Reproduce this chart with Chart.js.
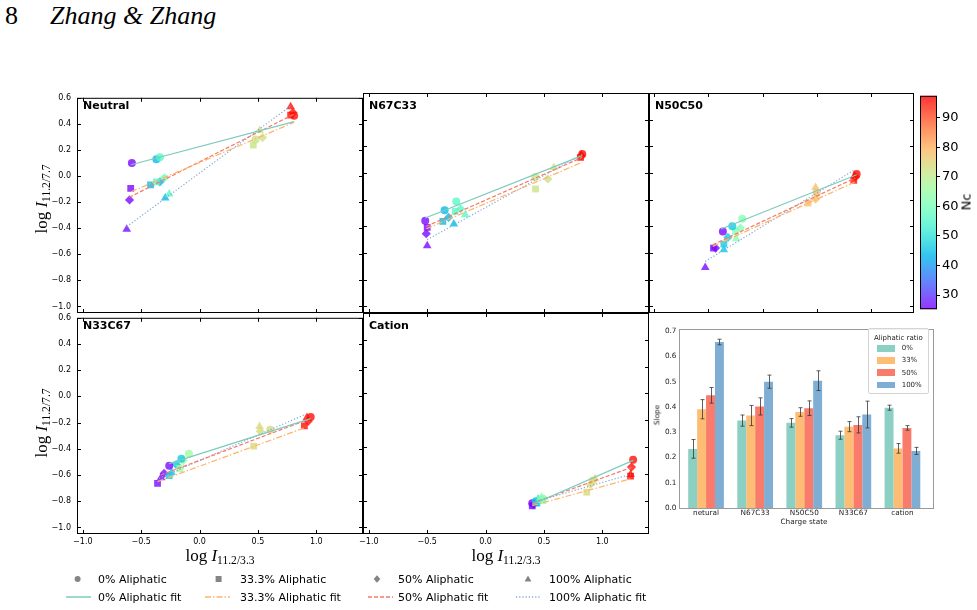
<!DOCTYPE html>
<html><head><meta charset="utf-8">
<script src="https://cdn.jsdelivr.net/npm/chart.js@4.4.1/dist/chart.umd.min.js"></script>
<style>
html,body{margin:0;padding:0;background:#fff;}
body{width:977px;height:610px;position:relative;overflow:hidden;font-family:"DejaVu Sans",sans-serif;color:#000;}
canvas{position:absolute;}
.t{position:absolute;white-space:nowrap;line-height:1;}
.serif{font-family:"Liberation Serif","DejaVu Serif",serif;}
sub{font-size:68%;vertical-align:-0.28em;line-height:0;}
</style></head><body>
<script>
// ---------------- DATA ----------------
const xTicks = [-1.0, -0.5, 0.0, 0.5, 1.0];
const yTicks = [-1.0, -0.8, -0.6, -0.4, -0.2, 0.0, 0.2, 0.4, 0.6];
const cbTicks = [30, 40, 50, 60, 70, 80, 90];
const panelNames = ['Neutral', 'N67C33', 'N50C50', 'N33C67', 'Cation'];
const seriesNames = ['0% Aliphatic', '33.3% Aliphatic', '50% Aliphatic', '100% Aliphatic'];
const fitNames = ['0% Aliphatic fit', '33.3% Aliphatic fit', '50% Aliphatic fit', '100% Aliphatic fit'];

// points: [log I11.2/3.3, log I11.2/7.7, Nc]
const neutral0   = [[-0.58,0.100,26],[-0.37,0.128,44],[-0.34,0.145,56],[0.48,0.280,72],[0.81,0.462,96]];
const neutral33  = [[-0.59,-0.095,26],[-0.42,-0.068,44],[-0.37,-0.045,56],[0.46,0.237,72],[0.78,0.467,96]];
const neutral50  = [[-0.60,-0.183,26],[-0.34,-0.045,44],[-0.30,-0.013,58],[0.54,0.295,72],[0.80,0.487,96]];
const neutral100 = [[-0.624,-0.408,26],[-0.294,-0.168,44],[-0.26,-0.138,56],[0.515,0.350,72],[0.78,0.532,96]];
const neutralFit0   = [[-0.587,0.087],[0.81,0.417]];
const neutralFit33  = [[-0.587,-0.120],[0.81,0.412]];
const neutralFit50  = [[-0.602,-0.163],[0.81,0.475]];
const neutralFit100 = [[-0.624,-0.388],[0.78,0.537]];

const n67c33_0   = [[-0.517,-0.358,26],[-0.351,-0.280,44],[-0.251,-0.213,56],[0.426,-0.030,72],[0.828,0.142,96]];
const n67c33_33  = [[-0.50,-0.408,26],[-0.366,-0.363,44],[-0.26,-0.288,56],[0.428,-0.120,72],[0.814,0.117,96]];
const n67c33_50  = [[-0.508,-0.455,26],[-0.317,-0.333,44],[-0.214,-0.268,56],[0.534,-0.045,72],[0.82,0.130,96]];
const n67c33_100 = [[-0.50,-0.545,26],[-0.272,-0.383,44],[-0.174,-0.313,56],[0.585,0.042,72],[0.82,0.135,96]];
const n67c33Fit0   = [[-0.517,-0.338],[0.828,0.130]];
const n67c33Fit33  = [[-0.508,-0.418],[0.828,0.080]];
const n67c33Fit50  = [[-0.508,-0.400],[0.828,0.117]];
const n67c33Fit100 = [[-0.50,-0.500],[0.828,0.140]];

const n50c50_0   = [[-0.367,-0.438,26],[-0.28,-0.400,46],[-0.188,-0.343,62],[0.50,-0.150,78],[0.87,-0.008,96]];
const n50c50_33  = [[-0.454,-0.563,26],[-0.358,-0.533,46],[-0.25,-0.438,62],[0.42,-0.225,78],[0.843,-0.055,96]];
const n50c50_50  = [[-0.435,-0.563,26],[-0.32,-0.483,46],[-0.204,-0.413,62],[0.49,-0.195,78],[0.86,-0.030,96]];
const n50c50_100 = [[-0.53,-0.708,26],[-0.358,-0.575,46],[-0.244,-0.493,62],[0.49,-0.108,78],[0.85,-0.020,96]];
const n50c50Fit0   = [[-0.383,-0.420],[0.87,-0.013]];
const n50c50Fit33  = [[-0.46,-0.550],[0.852,-0.068]];
const n50c50Fit50  = [[-0.46,-0.538],[0.855,-0.038]];
const n50c50Fit100 = [[-0.53,-0.663],[0.852,0.025]];

const n33c67_0   = [[-0.26,-0.530,26],[-0.156,-0.475,46],[-0.091,-0.438,66],[0.605,-0.255,74],[0.952,-0.158,96]];
const n33c67_33  = [[-0.36,-0.663,26],[-0.26,-0.605,46],[-0.17,-0.550,66],[0.463,-0.380,74],[0.898,-0.225,96]];
const n33c67_50  = [[-0.304,-0.588,26],[-0.20,-0.520,46],[-0.14,-0.490,66],[0.52,-0.265,74],[0.93,-0.190,96]];
const n33c67_100 = [[-0.33,-0.620,26],[-0.24,-0.580,46],[-0.18,-0.530,66],[0.514,-0.230,74],[0.92,-0.160,96]];
const n33c67Fit0   = [[-0.262,-0.513],[0.952,-0.170]];
const n33c67Fit33  = [[-0.36,-0.650],[0.904,-0.238]];
const n33c67Fit50  = [[-0.333,-0.600],[0.932,-0.175]];
const n33c67Fit100 = [[-0.347,-0.625],[0.904,-0.138]];

const cation0   = [[0.40,-0.820,26],[0.43,-0.805,46],[0.47,-0.790,62],[0.92,-0.650,74],[1.264,-0.495,96]];
const cation33  = [[0.40,-0.840,26],[0.44,-0.820,46],[0.49,-0.800,62],[0.867,-0.738,74],[1.242,-0.618,96]];
const cation50  = [[0.41,-0.830,26],[0.45,-0.800,46],[0.50,-0.785,62],[0.90,-0.680,74],[1.25,-0.550,96]];
const cation100 = [[0.42,-0.820,26],[0.45,-0.790,46],[0.48,-0.775,62],[0.938,-0.638,74],[1.242,-0.605,96]];
const cationFit0   = [[0.40,-0.830],[1.264,-0.500]];
const cationFit33  = [[0.40,-0.838],[1.242,-0.638]];
const cationFit50  = [[0.40,-0.820],[1.25,-0.553]];
const cationFit100 = [[0.42,-0.810],[1.242,-0.605]];

// bar chart (slopes)
const barCategories = ['netural', 'N67C33', 'N50C50', 'N33C67', 'cation'];
const barSeries = ['0%', '33%', '50%', '100%'];
const barTicks = [0.0, 0.1, 0.2, 0.3, 0.4, 0.5, 0.6, 0.7];
const slope0   = [0.234, 0.346, 0.337, 0.288, 0.397];
const slope33  = [0.391, 0.366, 0.380, 0.322, 0.236];
const slope50  = [0.446, 0.402, 0.395, 0.329, 0.317];
const slope100 = [0.657, 0.500, 0.504, 0.370, 0.226];
const err0   = [0.037, 0.022, 0.017, 0.016, 0.010];
const err33  = [0.038, 0.040, 0.017, 0.020, 0.019];
const err50  = [0.031, 0.034, 0.029, 0.032, 0.009];
const err100 = [0.011, 0.026, 0.039, 0.053, 0.014];

// ---------------- STYLE ----------------
Chart.defaults.font.family = 'DejaVu Sans';
Chart.defaults.color = '#000';
const cbMin = 25.2, cbMax = 97.4;
function rainbow(t, a) {
  t = Math.max(0, Math.min(1, t));
  const r = Math.min(1, Math.abs(2 * t - 0.5));
  const g = Math.sin(Math.PI * t);
  const b = Math.cos(Math.PI * t / 2);
  return 'rgba(' + Math.round(r * 255) + ',' + Math.round(g * 255) + ',' + Math.round(b * 255) + ',' + a + ')';
}
function ncColor(nc) { return rainbow((nc - cbMin) / (cbMax - cbMin), 0.8); }
const markerStyles = ['circle', 'rect', 'rectRot', 'triangle'];
const markerRadius = [4, 4.8, 4.6, 5];
const fitColors = ['#7ccbbd', '#fdb46a', '#f7786a', '#7fa8d6'];
const fitDash = [[], [6, 2, 1.5, 2], [4, 2], [1.2, 2]];
const barColors = ['#8ccfc3', '#fdbd74', '#f97b6b', '#7eaed4'];
const fmt = v => (v < -1e-9 ? '\u2212' : '') + Math.abs(v).toFixed(1);

function addText(html, x, y, o) {
  o = o || {};
  const d = document.createElement('div');
  d.className = 't' + (o.serif ? ' serif' : '');
  d.innerHTML = html;
  d.style.left = x + 'px'; d.style.top = y + 'px';
  d.style.fontSize = (o.size || 10) + 'px';
  if (o.bold) d.style.fontWeight = 'bold';
  if (o.italic) d.style.fontStyle = 'italic';
  if (o.color) d.style.color = o.color;
  let tr = o.anchor === 'center' ? 'translate(-50%,-50%)' : 'translate(0,-50%)';
  if (o.rotate) tr += ' rotate(' + o.rotate + 'deg)';
  d.style.transform = tr;
  document.body.appendChild(d);
  return d;
}

const frameTicks = {
  id: 'frameTicks',
  afterDraw(chart) {
    const ctx = chart.ctx, a = chart.chartArea, xs = chart.scales.x, ys = chart.scales.y;
    ctx.save();
    ctx.strokeStyle = '#000'; ctx.lineWidth = 1;
    ctx.strokeRect(a.left + 0.5, a.top + 0.5, a.right - a.left - 1, a.bottom - a.top - 1);
    ctx.beginPath();
    xTicks.forEach(v => {
      const px = Math.round(xs.getPixelForValue(v)) + 0.5;
      ctx.moveTo(px, a.bottom); ctx.lineTo(px, a.bottom - 4);
      ctx.moveTo(px, a.top); ctx.lineTo(px, a.top + 4);
    });
    yTicks.forEach(v => {
      const py = Math.round(ys.getPixelForValue(v)) + 0.5;
      ctx.moveTo(a.left, py); ctx.lineTo(a.left + 4, py);
      ctx.moveTo(a.right, py); ctx.lineTo(a.right - 4, py);
    });
    ctx.stroke();
    ctx.restore();
  }
};

function makePanel(p) {
  const W = p.r - p.l, H = p.b - p.t;
  const cv = document.createElement('canvas');
  cv.width = W + 46; cv.height = H + 26;
  cv.style.left = (p.l - 40) + 'px'; cv.style.top = (p.t - 6) + 'px';
  document.body.appendChild(cv);
  const datasets = [];
  p.series.forEach((s, i) => {
    datasets.push({
      label: seriesNames[i],
      data: s.map(d => ({ x: d[0], y: d[1], nc: d[2] })),
      pointStyle: markerStyles[i],
      pointRadius: markerRadius[i],
      pointBackgroundColor: c => ncColor(c.raw ? c.raw.nc : 60),
      pointBorderWidth: 0,
      showLine: false,
      order: 2
    });
  });
  p.fits.forEach((f, i) => {
    datasets.push({
      label: fitNames[i],
      data: f.map(d => ({ x: d[0], y: d[1] })),
      showLine: true, pointRadius: 0, borderColor: fitColors[i], borderWidth: 1.2,
      borderDash: fitDash[i], fill: false, order: 1
    });
  });
  new Chart(cv, {
    type: 'scatter',
    data: { datasets },
    plugins: [frameTicks],
    options: {
      responsive: false, animation: false, devicePixelRatio: 1,
      layout: { padding: { left: 0, top: 6, right: 6, bottom: 0 } },
      plugins: { legend: { display: false }, tooltip: { enabled: false } },
      scales: {
        x: {
          type: 'linear', min: -1.05, max: 1.4,
          grid: { display: false, drawTicks: false }, border: { display: false },
          afterBuildTicks: s => { s.ticks = xTicks.map(v => ({ value: v })); },
          afterFit: s => { s.height = 20; },
          ticks: { display: p.xLabels, autoSkip: false, maxRotation: 0, padding: 3, color: '#000', font: { size: 8 }, callback: v => fmt(v) }
        },
        y: {
          type: 'linear', min: -1.05, max: 0.6,
          grid: { display: false, drawTicks: false }, border: { display: false },
          afterBuildTicks: s => { s.ticks = yTicks.map(v => ({ value: v })); },
          afterFit: s => { s.width = 40; },
          ticks: { display: p.yLabels, autoSkip: false, padding: 6, color: '#000', font: { size: 8 }, callback: v => fmt(v) }
        }
      }
    }
  });
  addText(p.name, p.l + 6, p.t + 11.5, { size: 11, bold: true });
}

makePanel({ name: panelNames[0], l: 77, t: 93, r: 363, b: 313, xLabels: false, yLabels: true,
  series: [neutral0, neutral33, neutral50, neutral100], fits: [neutralFit0, neutralFit33, neutralFit50, neutralFit100] });
makePanel({ name: panelNames[1], l: 363, t: 93, r: 649, b: 313, xLabels: false, yLabels: false,
  series: [n67c33_0, n67c33_33, n67c33_50, n67c33_100], fits: [n67c33Fit0, n67c33Fit33, n67c33Fit50, n67c33Fit100] });
makePanel({ name: panelNames[2], l: 649, t: 93, r: 914, b: 313, xLabels: false, yLabels: false,
  series: [n50c50_0, n50c50_33, n50c50_50, n50c50_100], fits: [n50c50Fit0, n50c50Fit33, n50c50Fit50, n50c50Fit100] });
makePanel({ name: panelNames[3], l: 77, t: 313, r: 363, b: 534, xLabels: true, yLabels: true,
  series: [n33c67_0, n33c67_33, n33c67_50, n33c67_100], fits: [n33c67Fit0, n33c67Fit33, n33c67Fit50, n33c67Fit100] });
makePanel({ name: panelNames[4], l: 363, t: 313, r: 649, b: 534, xLabels: true, yLabels: false,
  series: [cation0, cation33, cation50, cation100], fits: [cationFit0, cationFit33, cationFit50, cationFit100] });

// ---------------- COLORBAR ----------------
(function () {
  const cv = document.createElement('canvas');
  cv.width = 67; cv.height = 233;
  cv.style.left = '915px'; cv.style.top = '86px';
  document.body.appendChild(cv);
  const gradPlugin = {
    id: 'cbGrad',
    beforeDatasetsDraw(chart) {
      const ctx = chart.ctx, a = chart.chartArea, ys = chart.scales.y;
      const g = ctx.createLinearGradient(0, ys.getPixelForValue(cbMin), 0, ys.getPixelForValue(cbMax));
      for (let i = 0; i <= 40; i++) g.addColorStop(i / 40, rainbow(i / 40, 0.8));
      ctx.save();
      ctx.fillStyle = g;
      ctx.fillRect(a.left, a.top, a.right - a.left, a.bottom - a.top);
      ctx.strokeStyle = '#000'; ctx.lineWidth = 1;
      ctx.strokeRect(a.left + 0.5, a.top + 0.5, a.right - a.left - 1, a.bottom - a.top - 1);
      ctx.restore();
    }
  };
  new Chart(cv, {
    type: 'scatter',
    data: { datasets: [] },
    plugins: [gradPlugin],
    options: {
      responsive: false, animation: false, devicePixelRatio: 1,
      layout: { padding: { left: 5, top: 6, right: 0, bottom: 6 } },
      plugins: { legend: { display: false }, tooltip: { enabled: false } },
      scales: {
        x: { display: false, min: 0, max: 1 },
        y: {
          type: 'linear', position: 'right', min: cbMin, max: cbMax,
          grid: { display: true, drawOnChartArea: false, drawTicks: true, tickLength: 3, color: '#000', lineWidth: 1 },
          border: { display: false },
          afterBuildTicks: s => { s.ticks = cbTicks.map(v => ({ value: v })); },
          afterFit: s => { s.width = 45; },
          ticks: { padding: 2, color: '#000', font: { size: 13 }, callback: v => String(v) }
        }
      }
    }
  });
  addText('Nc', 966, 202, { size: 13, anchor: 'center', rotate: -90 });
})();

// ---------------- BAR CHART ----------------
(function () {
  const cv = document.createElement('canvas');
  cv.width = 285; cv.height = 200;
  cv.style.left = '650px'; cv.style.top = '320px';
  document.body.appendChild(cv);
  const frameBars = {
    id: 'frameBars',
    beforeDatasetsDraw(chart) {
      const ctx = chart.ctx, a = chart.chartArea;
      ctx.save();
      ctx.strokeStyle = '#9a9a9a'; ctx.lineWidth = 1;
      ctx.strokeRect(Math.round(a.left - 3) + 0.5, Math.round(a.top) + 0.5, Math.round(a.right + 6) - Math.round(a.left - 3), Math.round(a.bottom) - Math.round(a.top));
      ctx.restore();
    }
  };
  const errorBars = {
    id: 'errorBars',
    afterDatasetsDraw(chart) {
      const ctx = chart.ctx, ys = chart.scales.y;
      ctx.save();
      ctx.strokeStyle = 'rgba(55,55,55,0.8)'; ctx.lineWidth = 1;
      chart.data.datasets.forEach((ds, i) => {
        chart.getDatasetMeta(i).data.forEach((bar, j) => {
          const v = ds.data[j], e = ds.errors[j];
          const x = Math.round(bar.x) + 0.5;
          const y1 = ys.getPixelForValue(v - e), y2 = ys.getPixelForValue(v + e);
          ctx.beginPath();
          ctx.moveTo(x, y1); ctx.lineTo(x, y2);
          ctx.moveTo(x - 2, y1); ctx.lineTo(x + 2, y1);
          ctx.moveTo(x - 2, y2); ctx.lineTo(x + 2, y2);
          ctx.stroke();
        });
      });
      ctx.restore();
    }
  };
  const vals = [slope0, slope33, slope50, slope100];
  const errs = [err0, err33, err50, err100];
  new Chart(cv, {
    type: 'bar',
    data: {
      labels: barCategories,
      datasets: barSeries.map((n, i) => ({ label: n, data: vals[i], errors: errs[i], backgroundColor: barColors[i], borderWidth: 0, categoryPercentage: 0.727, barPercentage: 1.0 }))
    },
    plugins: [frameBars, errorBars],
    options: {
      responsive: false, animation: false, devicePixelRatio: 1,
      layout: { padding: { left: 0, top: 5, right: 8, bottom: 0 } },
      plugins: { legend: { display: false }, tooltip: { enabled: false } },
      scales: {
        x: {
          grid: { display: false, drawTicks: false }, border: { display: false },
          afterFit: s => { s.height = 12; },
          ticks: { padding: 1, color: '#222', font: { size: 7.3 }, maxRotation: 0, autoSkip: false }
        },
        y: {
          min: 0, max: 0.707,
          grid: { display: false, drawTicks: false }, border: { display: false },
          afterBuildTicks: s => { s.ticks = barTicks.map(v => ({ value: v })); },
          afterFit: s => { s.width = 31.5; },
          ticks: { padding: 5, color: '#222', font: { size: 7.3 }, callback: v => v.toFixed(1) }
        }
      }
    }
  });
  addText('Slope', 657, 415, { size: 7.3, anchor: 'center', rotate: -90, color: '#222' });
  addText('Charge state', 804, 521.5, { size: 7.3, anchor: 'center', color: '#222' });
  // legend
  const box = document.createElement('div');
  box.style.cssText = 'position:absolute;left:868px;top:328px;width:59px;height:64px;border:1px solid #d4d4d4;border-radius:2px;background:rgba(255,255,255,0.85);';
  document.body.appendChild(box);
  addText('Aliphatic ratio', 898.3, 337.7, { size: 7, anchor: 'center', color: '#222' });
  const ys = [348.3, 360.3, 372.5, 384.8];
  barSeries.forEach((n, i) => {
    const sw = document.createElement('div');
    sw.style.cssText = 'position:absolute;left:877px;top:' + (ys[i] - 3.3) + 'px;width:18px;height:6.6px;background:' + barColors[i] + ';';
    document.body.appendChild(sw);
    addText(n, 901.7, ys[i], { size: 7, color: '#222' });
  });
})();

// ---------------- AXIS LABELS, HEADER, LEGEND ----------------
addText('log <i>I</i><sub>11.2/7.7</sub>', 41, 199, { serif: true, size: 17, anchor: 'center', rotate: -90 });
addText('log <i>I</i><sub>11.2/7.7</sub>', 41, 423, { serif: true, size: 17, anchor: 'center', rotate: -90 });
addText('log <i>I</i><sub>11.2/3.3</sub>', 220, 555, { serif: true, size: 17, anchor: 'center' });
addText('log <i>I</i><sub>11.2/3.3</sub>', 506, 555, { serif: true, size: 17, anchor: 'center' });
addText('8', 5, 16, { serif: true, size: 26 });
addText('Zhang &amp; Zhang', 50, 16, { serif: true, size: 26, italic: true });

(function () {
  const ns = 'http://www.w3.org/2000/svg';
  const svg = document.createElementNS(ns, 'svg');
  svg.setAttribute('width', '700'); svg.setAttribute('height', '45');
  svg.style.cssText = 'position:absolute;left:0;top:565px;';
  const r1 = 14, r2 = 32;
  const gray = '#858585';
  svg.innerHTML =
    '<circle cx="77.6" cy="' + r1 + '" r="3" fill="' + gray + '"/>' +
    '<rect x="215.6" y="' + (r1 - 3) + '" width="6" height="6" fill="' + gray + '"/>' +
    '<polygon points="377,' + (r1 - 3.8) + ' 380.3,' + r1 + ' 377,' + (r1 + 3.8) + ' 373.7,' + r1 + '" fill="' + gray + '"/>' +
    '<polygon points="528,' + (r1 - 3.6) + ' 531.4,' + (r1 + 2.6) + ' 524.6,' + (r1 + 2.6) + '" fill="' + gray + '"/>' +
    '<line x1="66" y1="' + r2 + '" x2="91" y2="' + r2 + '" stroke="' + fitColors[0] + '" stroke-width="1.5"/>' +
    '<line x1="205" y1="' + r2 + '" x2="230" y2="' + r2 + '" stroke="' + fitColors[1] + '" stroke-width="1.5" stroke-dasharray="6 2 1.5 2"/>' +
    '<line x1="368" y1="' + r2 + '" x2="393" y2="' + r2 + '" stroke="' + fitColors[2] + '" stroke-width="1.5" stroke-dasharray="4 2"/>' +
    '<line x1="516" y1="' + r2 + '" x2="541" y2="' + r2 + '" stroke="' + fitColors[3] + '" stroke-width="1.5" stroke-dasharray="1.2 2"/>';
  document.body.appendChild(svg);
  const lx = [98, 240, 398, 549];
  seriesNames.forEach((n, i) => addText(n, lx[i], 565 + r1, { size: 11 }));
  fitNames.forEach((n, i) => addText(n, lx[i], 565 + r2, { size: 11 }));
})();
</script>
</body></html>
